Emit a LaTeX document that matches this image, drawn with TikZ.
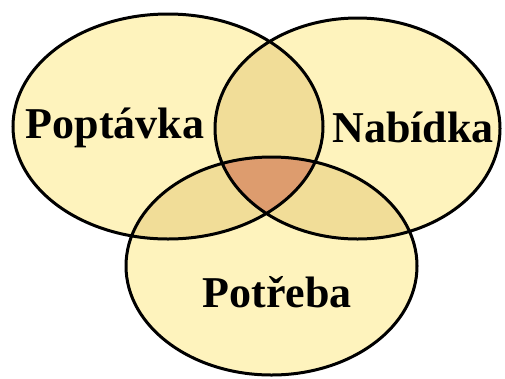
\documentclass[tikz,border=0pt]{standalone}
\usepackage{fontspec}
\setmainfont{Liberation Serif}
\definecolor{setfill}{RGB}{254,243,189}
\definecolor{pairfill}{RGB}{241,221,152}
\definecolor{corefill}{RGB}{221,156,110}

\begin{document}
\begin{tikzpicture}[
    x=1pt, y=-1pt,
    outline/.style={draw=black, line width=3pt},
    setname/.style={font=\fontsize{44}{44}\selectfont\bfseries, anchor=base}
]
\useasboundingbox (0,0) rectangle (505,378);
\def\poptavka{(168,126.5) ellipse [x radius=155, y radius=112.5]}
\def\nabidka{(357.5,128.5) ellipse [x radius=142.5, y radius=110.5]}
\def\potreba{(271.5,266) ellipse [x radius=145.5, y radius=109]}
% base fill
\fill[setfill] \poptavka;
\fill[setfill] \nabidka;
\fill[setfill] \potreba;
% pairwise overlaps
\begin{scope}
  \clip \poptavka;
  \fill[pairfill] \nabidka;
  \fill[pairfill] \potreba;
\end{scope}
\begin{scope}
  \clip \nabidka;
  \fill[pairfill] \potreba;
\end{scope}
% all three
\begin{scope}
  \clip \poptavka;
  \clip \nabidka;
  \fill[corefill] \potreba;
\end{scope}
\path[outline] \poptavka \nabidka \potreba;
\node[setname] (demand) at (115,138) {Poptávka};
\node[setname] (supply) at (413,142) {Nabídka};
\node[setname] (need) at (277,307) {Potřeba};
\end{tikzpicture}
\end{document}
